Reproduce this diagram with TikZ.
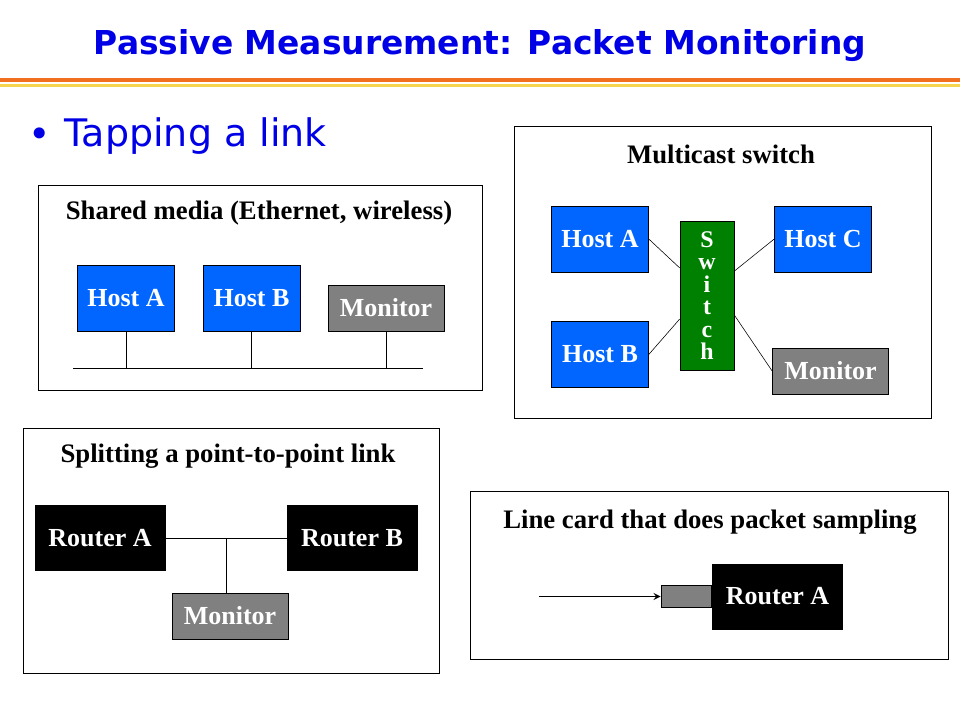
\documentclass[tikz,border=0pt]{standalone}
\usepackage{xcolor}
\usepackage{fontspec}
\setmainfont{Liberation Serif}
\newfontfamily\slidefont{DejaVu Sans}
\usetikzlibrary{arrows, positioning}
\definecolor{hostblue}{RGB}{0,102,255}
\definecolor{switchgreen}{RGB}{0,128,0}
\definecolor{monitorgray}{RGB}{128,128,128}
\definecolor{titleblue}{RGB}{0,0,230}
\definecolor{ruleorange}{RGB}{240,112,32}
\definecolor{ruleyellow}{RGB}{246,212,80}
\tikzstyle{panel} = [draw=black, line width=0.7pt]
\tikzstyle{paneltitle} = [font=\bfseries\fontsize{19}{20}\selectfont, inner sep=0pt]
\tikzstyle{box} = [rectangle, draw=black, line width=0.5pt, text=white, inner sep=0pt, font=\bfseries\fontsize{18.5}{20}\selectfont]
\tikzstyle{host} = [box, fill=hostblue, minimum width=2.42cm, minimum height=1.65cm]
\tikzstyle{monitor} = [box, fill=monitorgray, minimum width=2.9cm, minimum height=1.15cm]
\tikzstyle{router} = [box, fill=black, minimum width=3.25cm, minimum height=1.62cm]
\tikzstyle{switchbox} = [box, fill=switchgreen, minimum width=1.35cm, minimum height=3.72cm, align=center, font=\bfseries\fontsize{17}{16}\selectfont]
\tikzstyle{card} = [box, fill=monitorgray, minimum width=1.27cm, minimum height=0.55cm]
\tikzstyle{wire} = [draw=black, line width=0.6pt]
\tikzstyle{arrow} = [line width=1.2pt,->,>=stealth]

\begin{document}
\begin{tikzpicture}[x=0.025cm, y=-0.025cm]
    \useasboundingbox (0,0) rectangle (960,720);

    % Heading
    \node[font=\slidefont\bfseries\fontsize{23.4}{26}\selectfont, text=titleblue] (title) at (480,46) {Passive Measurement: Packet Monitoring};
    \draw[ruleorange, line width=2.2pt] (0,80) -- (960,80);
    \draw[ruleyellow, line width=1.5pt] (0,85.5) -- (960,85.5);
    \node[font=\slidefont\fontsize{27}{30}\selectfont, text=titleblue, anchor=west] (bullet) at (24,138) {•};
    \node[font=\slidefont\fontsize{27}{30}\selectfont, text=titleblue, anchor=west] (tapping) at (60,136) {Tapping a link};

    % Shared media
    \draw[panel] (38,185) rectangle (482,390);
    \node[paneltitle] (shared) at (259,213) {Shared media (Ethernet, wireless)};
    \node[host] (sha) at (126,298) {Host A};
    \node[host, right=0.7cm of sha] (shb) {Host B};
    \node[monitor] (shm) at (386,308) {Monitor};
    \coordinate (busw) at (73,368);
    \coordinate (buse) at (423,368);
    \draw[wire] (busw) -- (buse);
    \draw[wire] (sha.south) -- (sha.south |- busw);
    \draw[wire] (shb.south) -- (shb.south |- busw);
    \draw[wire] (shm.south) -- (shm.south |- busw);

    % Multicast switch
    \draw[panel] (514,126) rectangle (931,418);
    \node[paneltitle] (multi) at (721,154) {Multicast switch};
    \node[switchbox] (sw) at (707,295.5) {S\\w\\i\\t\\c\\h};
    \node[host] (mha) at (600,239) {Host A};
    \node[host] (mhb) at (600,354.5) {Host B};
    \node[host] (mhc) at (823,239) {Host C};
    \node[monitor] (mhm) at (830.5,371) {Monitor};
    \draw[wire, line width=0.4pt] (mha.east) -- ([yshift=0.69cm]sw.west);
    \draw[wire, line width=0.4pt] (mhb.east) -- ([yshift=-0.59cm]sw.west);
    \draw[wire, line width=0.4pt] ([yshift=0.61cm]sw.east) -- (mhc.west);
    \draw[wire, line width=0.4pt] ([yshift=-0.49cm]sw.east) -- (mhm.west);

    % Point-to-point link
    \draw[panel] (23,428) rectangle (439,673);
    \node[paneltitle] (split) at (228,456) {Splitting a point-to-point link};
    \node[router] (pra) at (100,538) {Router A};
    \node[router] (prb) at (352,538) {Router B};
    \node[monitor] (prm) at (230,616) {Monitor};
    \draw[wire] (pra.east) -- (prb.west);
    \draw[wire] ([xshift=-0.1cm]prm.north) -- ([xshift=-0.1cm]prm.north |- pra.east);

    % Line card
    \draw[panel] (470,491) rectangle (948,659);
    \node[paneltitle] (linecard) at (710,522) {Line card that does packet sampling};
    \node[router] (lra) at (777.5,596.5) {Router A};
    \node[card, left=0pt of lra.west, anchor=east] (lcard) {};
    \coordinate (lin) at (539,596.5);
    \draw[arrow] (lin) -- (lcard.west);

\end{tikzpicture}
\end{document}
